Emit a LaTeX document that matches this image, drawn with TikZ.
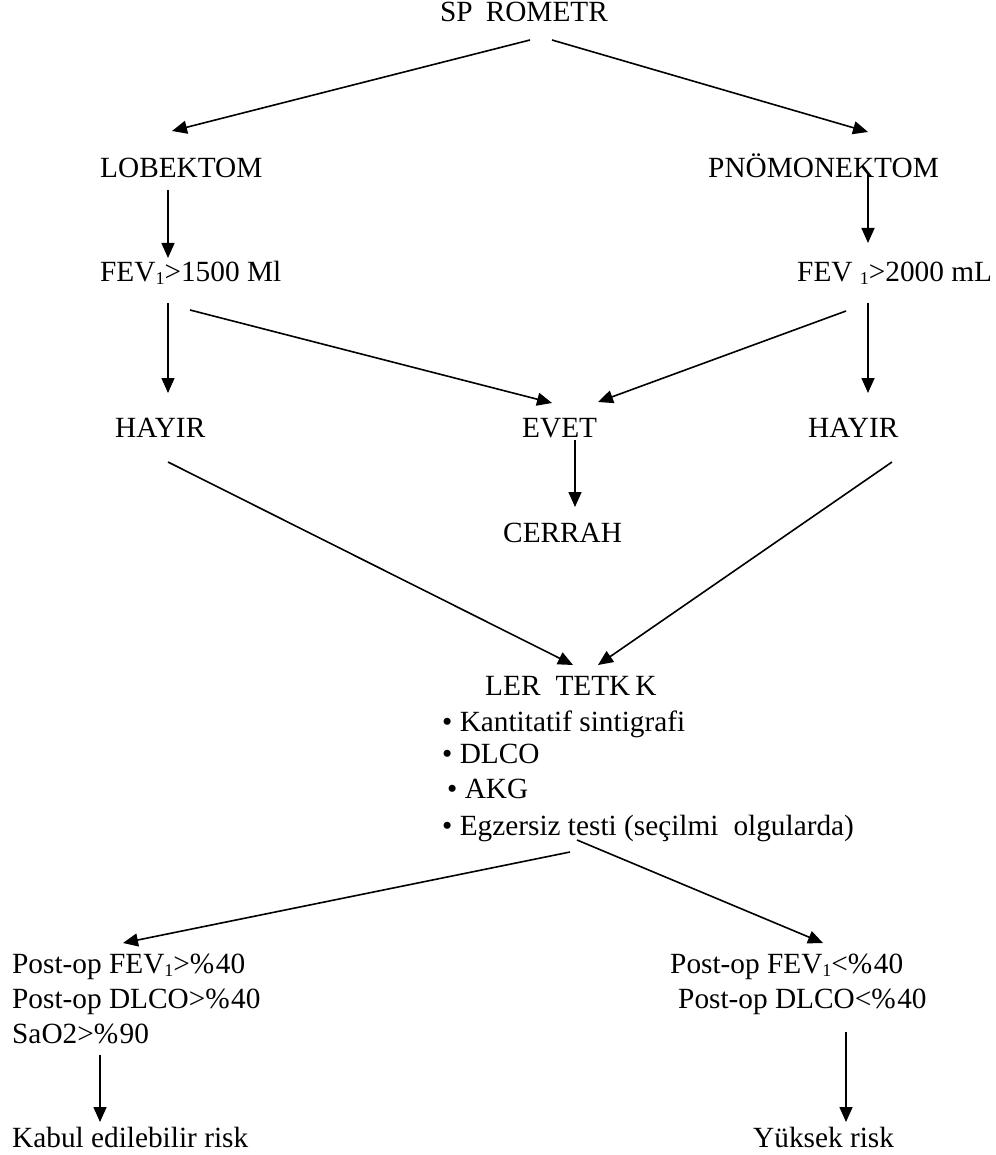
\documentclass[tikz,border=0pt]{standalone}
\usepackage{fontspec}
\setmainfont{Liberation Serif}
\usetikzlibrary{arrows.meta}
\newcommand\lowone[1]{\raisebox{-3pt}{\fontsize{18}{18}\selectfont #1}}
\newcommand\pct{\%\kern1.5pt}
\begin{document}
\begin{tikzpicture}[x=1pt,y=-1pt,
  txt/.style={anchor=base west,inner sep=0pt,font=\fontsize{29.3}{35}\selectfont},
  arr/.style={line width=1.6pt,-{Triangle[length=15pt,width=13pt]}},
  ln/.style={line width=1.6pt}]
\useasboundingbox (0,0) rectangle (995,1155);
% texts
\node[txt] (spiro) at (440,22) {SP\hspace{13pt}ROMETR};
\node[txt] (lob) at (100,178) {LOBEKTOM};
\node[txt] (pno) at (708,178) {PNÖMONEKTOM};
\node[txt] (fev1) at (100,282) {FEV\lowone{1}>1500 Ml};
\node[txt] (fev2) at (797,282) {FEV \lowone{1}>2000 mL};
\node[txt] (hay1) at (115,437) {HAYIR};
\node[txt] (evet) at (522,437) {EVET};
\node[txt] (hay2) at (808,437) {HAYIR};
\node[txt] (cerrah) at (503,542) {CERRAH};
\node[txt] (ileri) at (485,695) {LER\hspace{15pt}TETK\hspace{5pt}K};
\node[txt] (k1) at (442,731) {• Kantitatif sintigrafi};
\node[txt] (k2) at (442,763) {• DLCO};
\node[txt] (k3) at (447,798) {• AKG};
\node[txt] (k4) at (442,835) {• Egzersiz testi (seçilmi\hspace{15pt}olgularda)};
\node[txt] (g1) at (12,973) {Post-op FEV\lowone{1}>\pct40};
\node[txt] (g2) at (12,1008) {Post-op DLCO>\pct40};
\node[txt] (g3) at (12,1043) {SaO2>\pct90};
\node[txt] (b1) at (670,973) {Post-op FEV\lowone{1}<\pct40};
\node[txt] (b2) at (678,1008) {Post-op DLCO<\pct40};
\node[txt] (kabul) at (12,1147) {Kabul edilebilir risk};
\node[txt] (yuksek) at (753,1147) {Yüksek risk};
% connector end points
\coordinate (sA) at (530,40);
\coordinate (sB) at (552,40);
\coordinate (lobT) at (172,131);
\coordinate (pnoT) at (868,132);
\coordinate (lobB) at (168,190);
\coordinate (fev1T) at (168,258);
\coordinate (pnoB) at (868,173);
\coordinate (fev2T) at (868,243);
\coordinate (fev1B) at (168,303);
\coordinate (fev1R) at (190,310);
\coordinate (fev2B) at (868,303);
\coordinate (fev2L) at (846,311);
\coordinate (hay1T) at (168,393);
\coordinate (hay2T) at (868,393);
\coordinate (evetL) at (552,403);
\coordinate (evetR) at (598,402);
\coordinate (evetB) at (575,440);
\coordinate (cerrahT) at (575,507);
\coordinate (hay1B) at (168,462);
\coordinate (hay2B) at (892,462);
\coordinate (ileriL) at (573,665);
\coordinate (ileriR) at (598,665);
\coordinate (k4L) at (570,852);
\coordinate (k4R) at (577,840);
\coordinate (goodT) at (123,943);
\coordinate (badT) at (823,943);
\coordinate (goodB) at (100,1055);
\coordinate (kabulT) at (100,1122);
\coordinate (badB) at (846,1032);
\coordinate (yuksekT) at (846,1122);
% connectors
\draw[arr] (sA) -- (lobT);
\draw[arr] (sB) -- (pnoT);
\draw[arr] (lobB) -- (fev1T);
\draw[arr] (pnoB) -- (fev2T);
\draw[arr] (fev1B) -- (hay1T);
\draw[arr] (fev2B) -- (hay2T);
\draw[arr] (fev1R) -- (evetL);
\draw[arr] (fev2L) -- (evetR);
\draw[arr] (evetB) -- (cerrahT);
\draw[arr] (hay1B) -- (ileriL);
\draw[arr] (hay2B) -- (ileriR);
\draw[arr] (k4L) -- (goodT);
\draw[arr] (k4R) -- (badT);
\draw[arr] (goodB) -- (kabulT);
\draw[arr] (badB) -- (yuksekT);
\end{tikzpicture}
\end{document}
